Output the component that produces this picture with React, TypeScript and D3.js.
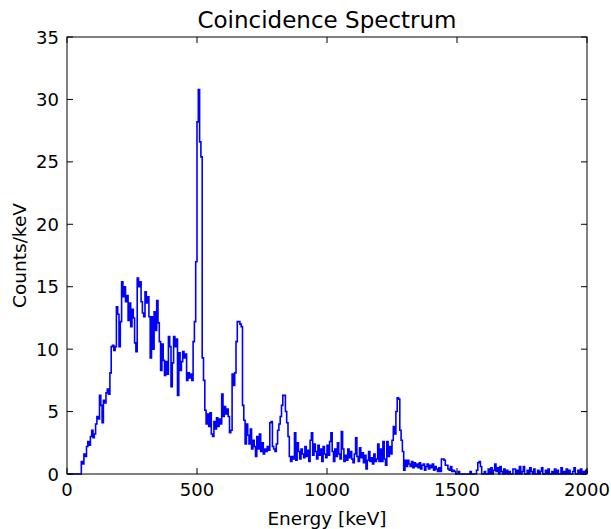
import React from 'react';
import * as d3 from 'd3';

const binWidth = 5; // keV
const counts: number[] = [
  // 0 - 95
  0, 0, 0, 0, 0, 0, 0, 0, 0, 0, 0, 1.0, 0.8, 1.6, 1.4, 2.2, 2.6, 2.3, 3.0, 3.5,
  // 100 - 195
  2.9, 3.2, 4.0, 4.6, 4.4, 6.3, 5.5, 4.1, 5.9, 5.7, 6.5, 6.8, 6.4, 8.1, 10.2, 10.3, 9.9, 10.2, 13.4, 12.8,
  // 200 - 295
  10.2, 12.2, 15.4, 14.2, 15.0, 13.8, 14.3, 12.3, 13.7, 11.8, 13.2, 12.5, 10.5, 9.8, 15.7, 15.0, 15.4, 13.8, 12.9, 12.6,
  // 300 - 395
  14.6, 13.7, 14.2, 12.6, 9.3, 12.6, 10.0, 13.0, 11.5, 13.9, 12.1, 10.6, 8.3, 10.4, 9.1, 7.9, 9.0, 8.0, 11.0, 10.2,
  // 400 - 495
  7.0, 8.9, 11.0, 10.2, 10.8, 6.3, 9.7, 8.3, 9.0, 9.8, 9.3, 9.6, 7.5, 8.1, 7.7, 8.0, 7.5, 10.6, 12.2, 17.0,
  // 500 - 595
  28.2, 30.8, 26.6, 25.4, 9.3, 7.5, 5.1, 4.0, 4.8, 3.8, 4.9, 3.2, 3.0, 4.2, 3.6, 4.5, 3.8, 4.4, 4.0, 6.4,
  // 600 - 695
  4.6, 5.4, 4.8, 5.2, 4.6, 3.3, 3.5, 8.0, 7.1, 8.1, 10.6, 12.2, 12.2, 12.0, 11.8, 5.5, 4.3, 2.4, 4.0, 3.1,
  // 700 - 795
  2.4, 3.6, 2.0, 2.7, 2.2, 1.4, 3.0, 2.0, 3.2, 1.8, 2.5, 1.6, 2.0, 1.8, 2.2, 1.9, 4.1, 4.2, 2.2, 2.0,
  // 800 - 895
  1.8, 2.4, 3.5, 4.0, 4.6, 5.5, 6.3, 6.3, 5.0, 4.1, 3.0, 1.4, 1.0, 1.4, 1.2, 3.3, 1.1, 2.5, 1.8, 1.2,
  // 900 - 995
  2.0, 1.6, 1.3, 2.2, 1.4, 1.9, 1.0, 2.7, 3.3, 1.5, 2.4, 1.8, 1.2, 2.3, 1.5, 2.0, 1.0, 2.2, 1.6, 1.3,
  // 1000 - 1095
  2.3, 1.5, 2.6, 3.3, 1.8, 1.0, 2.0, 1.4, 2.5, 1.6, 1.2, 3.4, 2.0, 1.0, 1.5, 1.1, 2.0, 1.3, 1.8, 1.2,
  // 1100 - 1195
  0.9, 1.6, 2.9, 1.4, 1.0, 2.1, 1.3, 1.7, 0.9, 1.5, 0.4, 1.1, 1.8, 1.0, 1.3, 0.8, 1.6, 1.0, 1.2, 2.4,
  // 1200 - 1295
  1.0, 2.0, 1.0, 2.6, 1.2, 0.7, 2.6, 1.4, 2.2, 1.6, 2.7, 3.8, 3.2, 5.0, 6.1, 6.0, 3.5, 2.7, 1.8, 0.3,
  // 1300 - 1395
  1.1, 0.6, 1.1, 0.8, 0.6, 1.0, 0.5, 0.9, 0.6, 0.8, 0.5, 0.9, 0.4, 0.7, 0.8, 0.3, 0.6, 0.8, 0.4, 0.7,
  // 1400 - 1495
  0.5, 0.8, 0.3, 0.6, 0.4, 0.2, 0.5, 0.2, 1.2, 1.2, 1.1, 0.7, 0.7, 0.4, 0.3, 0.6, 0.2, 0.3, 0.2, 0.0,
  // 1500 - 1595
  0, 0.2, 0, 0, 0, 0, 0, 0, 0, 0, 0.2, 0, 0, 0, 0, 0.3, 0.9, 1.0, 0.6, 0,
  // 1600 - 1695
  0, 0.2, 0, 0, 0.4, 0, 0.5, 0, 0.3, 0.8, 0.2, 0.5, 0, 0.6, 0.2, 0, 0.4, 0, 0.3, 0,
  // 1700 - 1795
  0.2, 0, 0, 0.4, 0.4, 0, 0.3, 0, 0.6, 0, 0.2, 0.6, 0, 0, 0.3, 0, 0.5, 0.2, 0, 0.4,
  // 1800 - 1895
  0, 0, 0.3, 0, 0.2, 0.5, 0, 0, 0.3, 0, 0.4, 0, 0, 0.2, 0, 0.4, 0, 0.3, 0, 0,
  // 1900 - 1995
  0.5, 0, 0.2, 0, 0.4, 0, 0.3, 0, 0, 0.2, 0.5, 0, 0, 0.3, 0, 0.4, 0, 0.2, 0, 0.3,
];

const xTicks = [0, 500, 1000, 1500, 2000];
const yTicks = [0, 5, 10, 15, 20, 25, 30, 35];
const title = 'Coincidence Spectrum';
const xLabel = 'Energy [keV]';
const yLabel = 'Counts/keV';

export default function App() {
  const W = 611;
  const H = 529;
  const m = { l: 67, r: 24, t: 37, b: 55 };
  const x = d3.scaleLinear().domain([0, 2000]).range([m.l, W - m.r]);
  const y = d3.scaleLinear().domain([0, 35]).range([H - m.b, m.t]);

  const pts: [number, number][] = [[0, 0]];
  counts.forEach((c, i) => pts.push([i * binWidth, c]));
  pts.push([counts.length * binWidth, counts[counts.length - 1]]);
  pts.push([counts.length * binWidth, 0]);

  const line = d3
    .line<[number, number]>()
    .x((d) => x(d[0]))
    .y((d) => y(d[1]))
    .curve(d3.curveStepAfter);

  const font = "'DejaVu Sans', sans-serif";
  const tl = 6;
  const x0 = m.l, x1 = W - m.r, y0 = H - m.b, y1 = m.t;

  return (
    <svg
      width={W}
      height={H}
      style={{ position: 'absolute', left: 0, top: 0, background: '#fff' }}
      fontFamily={font}
    >
      <rect x={0} y={0} width={W} height={H} fill="#fff" />
      <path d={line(pts) || ''} fill="none" stroke="#0000ff" strokeWidth={1.6} strokeLinejoin="miter" />
      <rect x={x0} y={y1} width={x1 - x0} height={y0 - y1} fill="none" stroke="#000" strokeWidth={1} />
      {xTicks.map((t) => (
        <g key={'x' + t}>
          <line x1={x(t)} x2={x(t)} y1={y0} y2={y0 - tl} stroke="#000" />
          <line x1={x(t)} x2={x(t)} y1={y1} y2={y1 + tl} stroke="#000" />
          <text x={x(t)} y={y0 + 22} fontSize={18} textAnchor="middle" fill="#000">
            {t}
          </text>
        </g>
      ))}
      {yTicks.map((t) => (
        <g key={'y' + t}>
          <line x1={x0} x2={x0 + tl} y1={y(t)} y2={y(t)} stroke="#000" />
          <line x1={x1} x2={x1 - tl} y1={y(t)} y2={y(t)} stroke="#000" />
          <text x={x0 - 8} y={y(t) + 6.5} fontSize={18} textAnchor="end" fill="#000">
            {t}
          </text>
        </g>
      ))}
      <text x={(x0 + x1) / 2} y={28} fontSize={23} textAnchor="middle" fill="#000">
        {title}
      </text>
      <text x={(x0 + x1) / 2} y={525} fontSize={18.5} textAnchor="middle" fill="#000">
        {xLabel}
      </text>
      <text
        transform={`translate(26, ${(y0 + y1) / 2}) rotate(-90)`}
        fontSize={18.5}
        textAnchor="middle"
        fill="#000"
      >
        {yLabel}
      </text>
    </svg>
  );
}
